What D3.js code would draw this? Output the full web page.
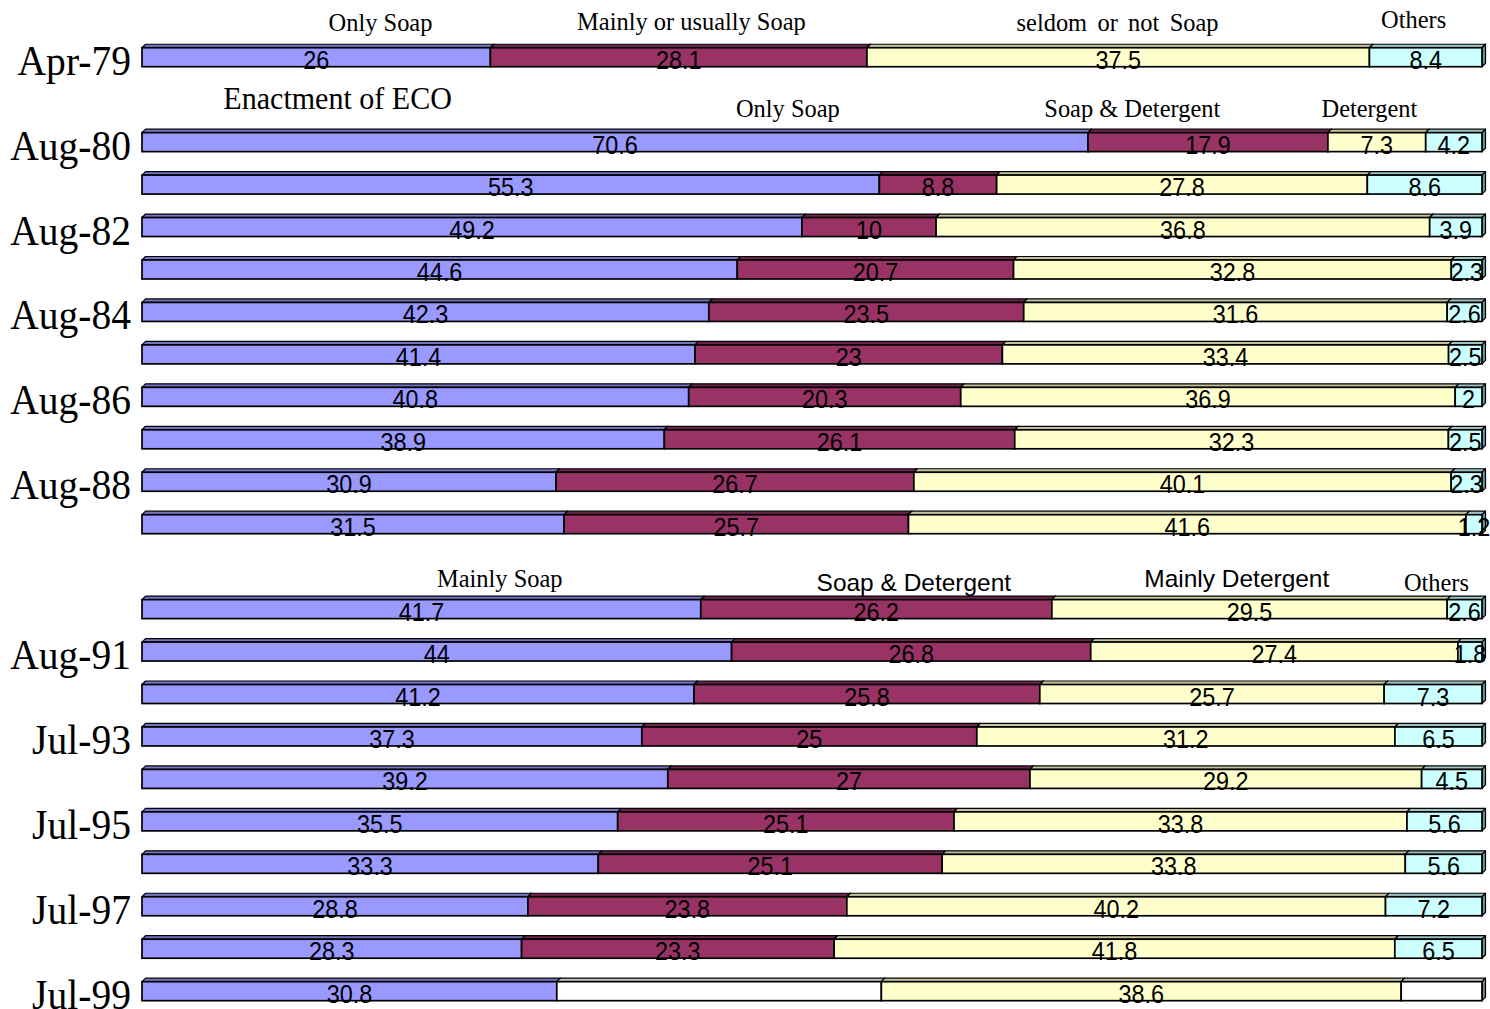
<!DOCTYPE html>
<html>
<head>
<meta charset="utf-8">
<script src="https://cdn.jsdelivr.net/npm/d3@7"></script>
<style>
  body { margin: 0; background: #fff; }
</style>
</head>
<body>
<div id="container"></div>
<script>
let w = 1490;
let h = 1009;

// survey rows, top to bottom ("" = row without a label)
let rowLabels = ["Apr-79", "Aug-80", "", "Aug-82", "", "Aug-84", "", "Aug-86", "", "Aug-88", "",
  "", "Aug-91", "", "Jul-93", "", "Jul-95", "", "Jul-97", "", "Jul-99"];
// an empty slot goes before these rows
let gapBefore = [1, 11];

let soap      = [26, 70.6, 55.3, 49.2, 44.6, 42.3, 41.4, 40.8, 38.9, 30.9, 31.5, 41.7, 44, 41.2, 37.3, 39.2, 35.5, 33.3, 28.8, 28.3, 30.8];
let both      = [28.1, 17.9, 8.8, 10, 20.7, 23.5, 23, 20.3, 26.1, 26.7, 25.7, 26.2, 26.8, 25.8, 25, 27, 25.1, 25.1, 23.8, 23.3, 24.1];
let detergent = [37.5, 7.3, 27.8, 36.8, 32.8, 31.6, 33.4, 36.9, 32.3, 40.1, 41.6, 29.5, 27.4, 25.7, 31.2, 29.2, 33.8, 33.8, 40.2, 41.8, 38.6];
let others    = [8.4, 4.2, 8.6, 3.9, 2.3, 2.6, 2.5, 2, 2.5, 2.3, 1.2, 2.6, 1.8, 7.3, 6.5, 4.5, 5.6, 5.6, 7.2, 6.5, 6.0];
let keys = ["soap", "both", "detergent", "others"];
// [row, series] cells that are drawn blank, no value
let blankCells = [[20, 1], [20, 3]];

let frontColor = {soap: "#9999ff", both: "#993366", detergent: "#ffffcc", others: "#ccffff", blank: "#ffffff"};
let topColor   = {soap: "#7474c4", both: "#6e244a", detergent: "#c4c49c", others: "#9cc4c4", blank: "#c0c0c0"};
let sideColor  = {soap: "#5c5c99", both: "#5c1f3d", detergent: "#99997a", others: "#669999", blank: "#808080"};

let rows = rowLabels.map(function (lab, i) {
  return {id: "r" + i, idx: i, label: lab, soap: soap[i], both: both[i], detergent: detergent[i], others: others[i]};
});
let slots = [];
rows.forEach(function (r, i) {
  if (gapBefore.includes(i)) slots.push("gap" + i);
  slots.push(r.id);
});

let viz = d3.select("#container").append("svg")
  .attr("width", w)
  .attr("height", h);

let x = d3.scaleLinear().domain([0, 1]).range([142, 1482]);
let y = d3.scaleBand().domain(slots).range([36, 1012.4])
  .paddingInner(0.5524).paddingOuter(0.2762);
let bw = y.bandwidth();
let depth = 3.5;

let stacked = d3.stack().keys(keys).offset(d3.stackOffsetExpand)(rows);

function isBlank(rowIdx, k) {
  return blankCells.some(function (c) { return c[0] == rowIdx && c[1] == k; });
}

// 3d boxes, left to right so each segment hides the side of the one before
let boxes = viz.append("g").attr("class", "boxes");
stacked.forEach(function (ser, k) {
  ser.forEach(function (d) {
    let r = d.data;
    let c = isBlank(r.idx, k) ? "blank" : ser.key;
    let x0 = x(d[0]), x1 = x(d[1]);
    let yt = y(r.id), yb = yt + bw;
    let g = boxes.append("g");
    g.append("path")
      .attr("d", "M" + x0 + "," + yt + "L" + (x0 + depth) + "," + (yt - depth) + "L" + (x1 + depth) + "," + (yt - depth) + "L" + x1 + "," + yt + "Z")
      .attr("fill", topColor[c]).attr("stroke", "#000").attr("stroke-width", 1.2).attr("stroke-linejoin", "round");
    g.append("path")
      .attr("d", "M" + x1 + "," + yt + "L" + (x1 + depth) + "," + (yt - depth) + "L" + (x1 + depth) + "," + (yb - depth) + "L" + x1 + "," + yb + "Z")
      .attr("fill", sideColor[c]).attr("stroke", "#000").attr("stroke-width", 1.2).attr("stroke-linejoin", "round");
    g.append("rect")
      .attr("x", x0).attr("y", yt)
      .attr("width", x1 - x0).attr("height", bw)
      .attr("fill", frontColor[c]).attr("stroke", "#000").attr("stroke-width", 1.7);
  });
});

// value labels
let labels = viz.append("g").attr("class", "values");
stacked.forEach(function (ser, k) {
  ser.forEach(function (d) {
    let r = d.data;
    if (isBlank(r.idx, k)) return;
    let cx = (x(d[0]) + x(d[1])) / 2;
    let by = y(r.id) + bw + 2;
    labels.append("text")
      .attr("transform", "translate(" + cx + "," + by + ") scale(0.9,1)")
      .attr("text-anchor", "middle")
      .attr("font-family", "'Liberation Sans', Arial, sans-serif")
      .attr("font-size", 26)
      .attr("fill", "#000")
      .text(r[ser.key]);
  });
});

// row labels on the left
let yAxis = d3.axisLeft(y)
  .tickValues(rows.filter(function (r) { return r.label != ""; }).map(function (r) { return r.id; }))
  .tickFormat(function (id) { return rows.find(function (r) { return r.id == id; }).label; })
  .tickSize(0)
  .tickPadding(12);
let axisG = viz.append("g")
  .attr("transform", "translate(142,0)")
  .call(yAxis);
axisG.select(".domain").remove();
axisG.selectAll("text")
  .attr("font-family", "'Liberation Serif', 'Times New Roman', serif")
  .attr("font-size", 43)
  .attr("fill", "#000")
  .attr("dy", 17.5)
  .attr("transform", "scale(0.92,1)");

// category names written above each period's bars
let notes = [
  {text: "Only Soap", pct: 17.8, slot: "r0", dy: -17, serif: true, size: 26},
  {text: "Mainly or usually Soap", pct: 41.0, slot: "r0", dy: -17.5, serif: true, size: 26},
  {text: "seldom or not Soap", pct: 72.8, slot: "r0", dy: -17, serif: true, size: 26, ws: 4.5},
  {text: "Others", pct: 94.9, slot: "r0", dy: -19.5, serif: true, size: 26},
  {text: "Enactment of ECO", pct: 14.6, slot: "r1", dy: -23.6, serif: true, size: 31},
  {text: "Only Soap", pct: 48.2, slot: "r1", dy: -15.6, serif: true, size: 26},
  {text: "Soap & Detergent", pct: 73.9, slot: "r1", dy: -15.6, serif: true, size: 26},
  {text: "Detergent", pct: 91.6, slot: "r1", dy: -15.6, serif: true, size: 26},
  {text: "Mainly Soap", pct: 26.7, slot: "r11", dy: -12.6, serif: true, size: 26},
  {text: "Soap & Detergent", pct: 57.6, slot: "r11", dy: -8.6, serif: false, size: 24},
  {text: "Mainly Detergent", pct: 81.7, slot: "r11", dy: -12.6, serif: false, size: 24},
  {text: "Others", pct: 96.6, slot: "r11", dy: -8.6, serif: true, size: 26}
];
viz.append("g").attr("class", "notes").selectAll("text").data(notes).enter()
  .append("text")
  .attr("transform", function (d) {
    let sx = d.serif ? (d.size > 28 ? 0.97 : 0.94) : 1.02;
    return "translate(" + x(d.pct / 100) + "," + (y(d.slot) + d.dy) + ") scale(" + sx + ",1)";
  })
  .attr("text-anchor", "middle")
  .attr("font-family", function (d) {
    return d.serif ? "'Liberation Serif', 'Times New Roman', serif" : "'Liberation Sans', Arial, sans-serif";
  })
  .attr("font-size", function (d) { return d.size; })
  .attr("word-spacing", function (d) { return d.ws || 0; })
  .attr("fill", "#000")
  .text(function (d) { return d.text; });
</script>
</body>
</html>
